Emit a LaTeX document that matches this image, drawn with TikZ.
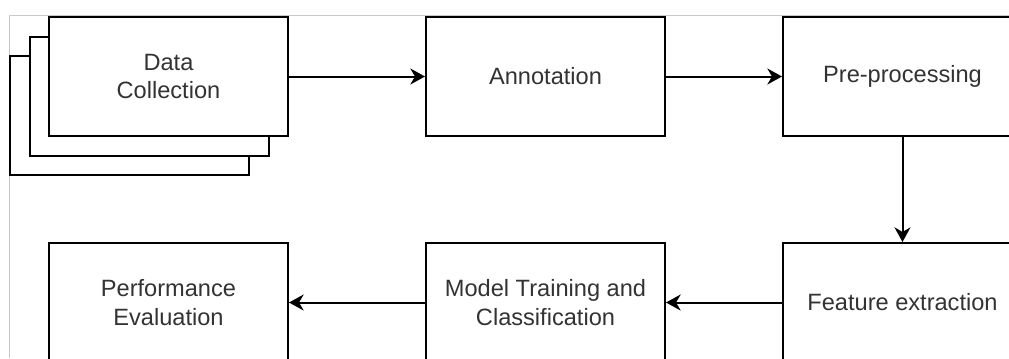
\documentclass[tikz,border=0pt]{standalone}
\usepackage{fontspec}
\setmainfont{Liberation Sans}
\usetikzlibrary{arrows.meta}
\definecolor{txtgray}{HTML}{333333}
\definecolor{framegray}{HTML}{C8C8C8}
\tikzset{
  stagebox/.style={draw=black, line width=1.5pt, fill=white,
    minimum width=179.25pt, minimum height=89.25pt, inner sep=0pt,
    align=center, text=txtgray, font=\fontsize{17.7pt}{21.2pt}\selectfont},
  flowarrow/.style={draw=black, line width=1.5pt,
    -{Stealth[length=11pt, width=12pt, inset=3.5pt]}},
  frameline/.style={draw=framegray, line width=0.75pt}
}
\begin{document}
\begin{tikzpicture}[x=0.75pt, y=-0.75pt]
  \useasboundingbox (0,0) rectangle (1009,358);
  \path[clip] (0,0) rectangle (1009,358);
  \fill[white] (0,0) rectangle (1009,358);

  % page frame
  \draw[frameline] (9,358) -- (9,15) -- (1009,15);

  % stacked sheets behind the data collection box
  \node[stagebox] (dcback) at (129.5,115.5) {};
  \node[stagebox] (dcmid) at (149,96) {};
  \node[stagebox] (dc) at (168.5,76.5) {Data\\Collection};

  \node[stagebox] (ann) at (545.5,76.5) {Annotation};
  \node[stagebox] (pre) at (902.5,76.5) {Pre-processing};
  \node[stagebox] (fe) at (902.5,302.5) {Feature extraction};
  \node[stagebox] (mt) at (545.5,302.5) {Model Training and\\Classification};
  \node[stagebox] (pe) at (168.5,302.5) {Performance\\Evaluation};

  \draw[flowarrow] (dc) -- (ann);
  \draw[flowarrow] (ann) -- (pre);
  \draw[flowarrow] (pre) -- (fe);
  \draw[flowarrow] (fe) -- (mt);
  \draw[flowarrow] (mt) -- (pe);
\end{tikzpicture}
\end{document}
